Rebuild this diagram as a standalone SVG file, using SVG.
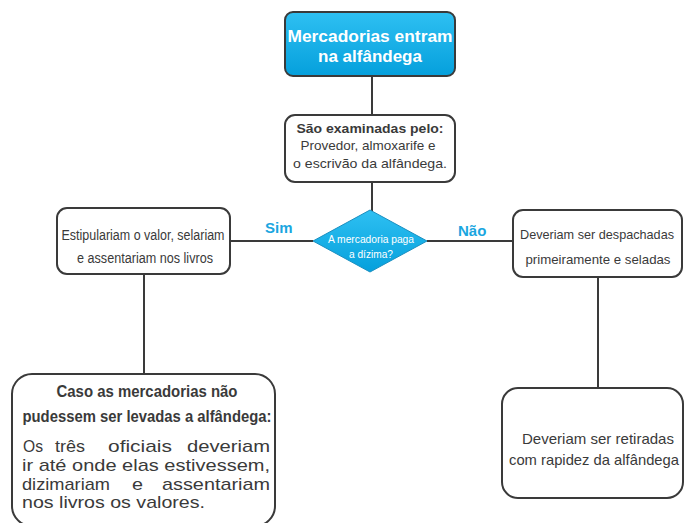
<svg xmlns="http://www.w3.org/2000/svg" width="684" height="523" viewBox="0 0 684 523">
<defs>
<linearGradient id="blue" x1="0" y1="0" x2="0" y2="1">
<stop offset="0" stop-color="#2ec0f2"/>
<stop offset="1" stop-color="#05a0dc"/>
</linearGradient>
<style>
.box{fill:#fff;stroke:#3a3a3a;stroke-width:2}
.bluebox{fill:url(#blue);stroke:#3a3a3a;stroke-width:2}
.ln{stroke:#3a3a3a;stroke-width:2;fill:none}
text{font-family:"Liberation Sans",Arial,sans-serif;fill:#3a3a3a}
.w{fill:#fff;font-weight:bold}
.wn{fill:#fff}
.b{font-weight:bold}
.body{font-size:17px}
.lbl{fill:#1aa6df;font-weight:bold;font-size:15px}
</style>
</defs>
<rect width="684" height="523" fill="#fff"/>
<g id="connectors">
<line class="ln" x1="372" y1="76" x2="372" y2="115"/>
<line class="ln" x1="372" y1="182" x2="372" y2="211"/>
<line class="ln" x1="230" y1="241" x2="313" y2="241"/>
<line class="ln" x1="427" y1="241" x2="513" y2="241"/>
<line class="ln" x1="144" y1="274" x2="144" y2="374"/>
<line class="ln" x1="598" y1="277" x2="598" y2="388"/>
<text class="lbl" x="265" y="233">Sim</text>
<text class="lbl" x="458" y="236">Não</text>
</g>
<g id="n1">
<rect class="bluebox" x="285" y="12" width="170" height="64" rx="8"/>
<text class="w" x="370" y="42" font-size="17" text-anchor="middle" textLength="165" lengthAdjust="spacingAndGlyphs">Mercadorias entram</text>
<text class="w" x="370" y="62" font-size="17" text-anchor="middle">na alfândega</text>
</g>
<g id="n2">
<rect class="box" x="285" y="115" width="170" height="67" rx="10"/>
<text class="b" x="370" y="133" font-size="13.5" text-anchor="middle" textLength="147" lengthAdjust="spacingAndGlyphs">São examinadas pelo:</text>
<text x="368" y="150" font-size="13.5" text-anchor="middle" textLength="135" lengthAdjust="spacingAndGlyphs">Provedor, almoxarife e</text>
<text x="370" y="168" font-size="13.5" text-anchor="middle" textLength="154" lengthAdjust="spacingAndGlyphs">o escrivão da alfândega.</text>
</g>
<g id="n3">
<path d="M370 210 L427 241 L370 272 L313 241 Z" fill="url(#blue)" stroke="#1a8fc0" stroke-width="1"/>
<text class="wn" x="371" y="243" font-size="11" text-anchor="middle" textLength="86" lengthAdjust="spacingAndGlyphs">A mercadoria paga</text>
<text class="wn" x="371" y="258" font-size="11" text-anchor="middle" textLength="44" lengthAdjust="spacingAndGlyphs">a dízima?</text>
</g>
<g id="n4">
<rect class="box" x="57" y="208" width="173" height="66" rx="10"/>
<text x="143" y="240" font-size="15.5" text-anchor="middle" textLength="163" lengthAdjust="spacingAndGlyphs">Estipulariam o valor, selariam</text>
<text x="145" y="263" font-size="15.5" text-anchor="middle" textLength="136" lengthAdjust="spacingAndGlyphs">e assentariam nos livros</text>
</g>
<g id="n5">
<rect class="box" x="513" y="210" width="169" height="67" rx="10"/>
<text x="597" y="239" font-size="13.5" text-anchor="middle" textLength="154" lengthAdjust="spacingAndGlyphs">Deveriam ser despachadas</text>
<text x="598" y="264" font-size="13.5" text-anchor="middle" textLength="145" lengthAdjust="spacingAndGlyphs">primeiramente e seladas</text>
</g>
<g id="n6">
<rect class="box" x="12" y="374" width="263" height="152" rx="20"/>
<text class="b" x="147" y="397" font-size="16" text-anchor="middle" textLength="181" lengthAdjust="spacingAndGlyphs">Caso as mercadorias não</text>
<text class="b" x="147" y="422" font-size="16" text-anchor="middle" textLength="249" lengthAdjust="spacingAndGlyphs">pudessem ser levadas a alfândega:</text>
<text class="body" x="23" y="452" textLength="20" lengthAdjust="spacingAndGlyphs">Os</text>
<text class="body" x="55" y="452" textLength="30" lengthAdjust="spacingAndGlyphs">três</text>
<text class="body" x="108" y="452" textLength="64" lengthAdjust="spacingAndGlyphs">oficiais</text>
<text class="body" x="187" y="452" textLength="83" lengthAdjust="spacingAndGlyphs">deveriam</text>
<text class="body" x="22" y="471" textLength="248" lengthAdjust="spacingAndGlyphs">ir até onde elas estivessem,</text>
<text class="body" x="22" y="490" textLength="88" lengthAdjust="spacingAndGlyphs">dizimariam</text>
<text class="body" x="132" y="490" textLength="11" lengthAdjust="spacingAndGlyphs">e</text>
<text class="body" x="162" y="490" textLength="108" lengthAdjust="spacingAndGlyphs">assentariam</text>
<text class="body" x="22" y="508" textLength="183" lengthAdjust="spacingAndGlyphs">nos livros os valores.</text>
</g>
<g id="n7">
<rect class="box" x="502" y="388" width="181" height="110" rx="16"/>
<text x="598" y="444" font-size="15" text-anchor="middle" textLength="152" lengthAdjust="spacingAndGlyphs">Deveriam ser retiradas</text>
<text x="594" y="465" font-size="15" text-anchor="middle" textLength="170" lengthAdjust="spacingAndGlyphs">com rapidez da alfândega</text>
</g>
</svg>
